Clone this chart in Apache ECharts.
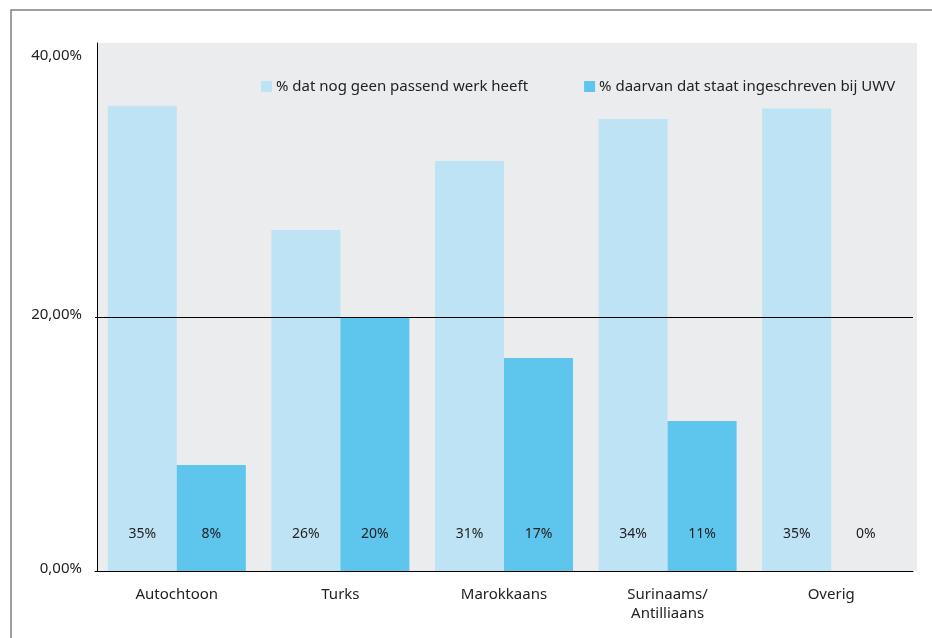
<!DOCTYPE html>
<html>
<head>
<meta charset="utf-8">
<script src="https://cdn.jsdelivr.net/npm/echarts@6/dist/echarts.min.js"></script>
<style>
html,body{margin:0;padding:0;background:#fff;}
#chart{width:932px;height:638px;}
</style>
</head>
<body>
<div id="chart"></div>
<script>
var categories = ['Autochtoon', 'Turks', 'Marokkaans', 'Surinaams/\nAntilliaans', 'Overig'];
var seriesNames = ['% dat nog geen passend werk heeft', '% daarvan dat staat ingeschreven bij UWV'];
var geenWerk = [36.7, 26.9, 32.35, 35.66, 36.5];
var ingeschreven = [8.36, 20.0, 16.8, 11.83, 0];
var geenWerkLabels = ['35%', '26%', '31%', '34%', '35%'];
var ingeschrevenLabels = ['8%', '20%', '17%', '11%', '0%'];
var yTicks = [0, 20, 40];
var yMax = 41.66;

var FONT = 'Noto Sans';
var chart = echarts.init(document.getElementById('chart'), null, {renderer: 'canvas'});

function fmtPct(v) {
  return v.toFixed(2).replace('.', ',') + '%';
}

var option = {
  animation: false,
  backgroundColor: '#ffffff',
  textStyle: {fontFamily: FONT},
  graphic: [
    {
      type: 'rect', z: -10, silent: true,
      shape: {x: 11, y: 10, width: 940, height: 660},
      style: {fill: 'none', stroke: '#808080', lineWidth: 1.5}
    },
    {
      type: 'rect', z: -5, silent: true,
      shape: {x: 97, y: 43, width: 820, height: 528},
      style: {fill: '#ebeced'}
    }
  ],
  legend: {
    left: 256, top: 74,
    itemWidth: 11, itemHeight: 11, itemGap: 56,
    icon: 'rect',
    textStyle: {fontFamily: FONT, fontSize: 15, color: '#222', padding: [0, 0, 0, -1]},
    data: seriesNames
  },
  grid: {left: 95, right: 19, top: 43, bottom: 67, containLabel: false},
  xAxis: {
    type: 'category',
    data: categories,
    axisLine: {show: true, lineStyle: {color: '#000', width: 1}},
    axisTick: {show: false},
    axisLabel: {fontFamily: FONT, fontSize: 15, color: '#222', margin: 14, lineHeight: 19},
    splitLine: {show: false}
  },
  yAxis: {
    type: 'value',
    min: 0, max: yMax, interval: 20,
    offset: -2,
    axisLine: {show: true, lineStyle: {color: '#000', width: 1}},
    axisTick: {show: false},
    splitLine: {show: false},
    axisLabel: {
      fontFamily: FONT, fontSize: 15, color: '#222', margin: 15,
      showMaxLabel: false,
      formatter: function (v) {
        var r = Math.round(v * 100) / 100;
        if (yTicks.indexOf(r) < 0) return '';
        return r === yTicks[2] ? '{hi|' + fmtPct(r) + '}' : '{lo|' + fmtPct(r) + '}';
      },
      rich: {
        hi: {fontFamily: FONT, fontSize: 15, color: '#222', padding: [0, 0, 16, 0]},
        lo: {fontFamily: FONT, fontSize: 15, color: '#222', padding: [0, 0, 5, 0]}
      }
    }
  },
  series: [
    {
      name: seriesNames[0],
      type: 'bar',
      data: geenWerk,
      barWidth: 69,
      barGap: '0%',
      itemStyle: {color: '#bee3f5'},
      label: {
        show: true, position: 'insideBottom', distance: 30,
        fontFamily: FONT, fontSize: 14, color: '#222',
        formatter: function (p) { return geenWerkLabels[p.dataIndex]; }
      },
      markLine: {
        silent: true,
        symbol: ['none', 'none'],
        label: {show: false},
        lineStyle: {color: '#000', width: 1, type: 'solid'},
        data: [{yAxis: yTicks[1]}]
      }
    },
    {
      name: seriesNames[1],
      type: 'bar',
      data: ingeschreven,
      barWidth: 69,
      barGap: '0%',
      itemStyle: {color: '#5ec5ec'},
      label: {
        show: true, position: 'insideBottom', distance: 30,
        fontFamily: FONT, fontSize: 14, color: '#222',
        formatter: function (p) { return ingeschrevenLabels[p.dataIndex]; }
      }
    }
  ]
};
chart.setOption(option);
</script>
</body>
</html>
